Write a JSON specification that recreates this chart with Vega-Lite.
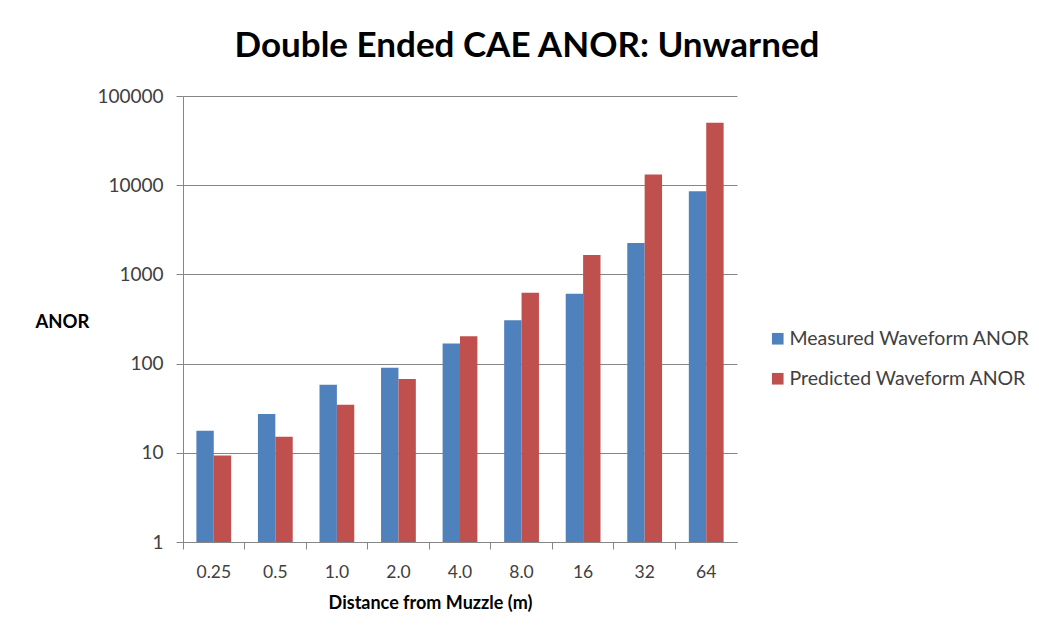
{
  "$schema": "https://vega.github.io/schema/vega-lite/v6.json",
  "autosize": "none",
  "width": 554,
  "height": 446,
  "padding": {"left": 183, "top": 96, "right": 302, "bottom": 97},
  "background": "white",
  "config": {
    "view": {"stroke": null},
    "font": "Lato"
  },
  "title": {
    "text": "Double Ended CAE ANOR: Unwarned",
    "font": "Lato",
    "fontSize": 35,
    "fontWeight": "bold",
    "color": "#000000",
    "anchor": "middle",
    "frame": "group",
    "dx": 67,
    "offset": 23
  },
  "data": {
    "values": [
      {"dist": "0.25", "series": "Measured Waveform ANOR", "anor": 17.7},
      {"dist": "0.25", "series": "Predicted Waveform ANOR", "anor": 9.3},
      {"dist": "0.5", "series": "Measured Waveform ANOR", "anor": 27.2},
      {"dist": "0.5", "series": "Predicted Waveform ANOR", "anor": 15.1},
      {"dist": "1.0", "series": "Measured Waveform ANOR", "anor": 58},
      {"dist": "1.0", "series": "Predicted Waveform ANOR", "anor": 34.6},
      {"dist": "2.0", "series": "Measured Waveform ANOR", "anor": 90},
      {"dist": "2.0", "series": "Predicted Waveform ANOR", "anor": 67},
      {"dist": "4.0", "series": "Measured Waveform ANOR", "anor": 168},
      {"dist": "4.0", "series": "Predicted Waveform ANOR", "anor": 203},
      {"dist": "8.0", "series": "Measured Waveform ANOR", "anor": 307},
      {"dist": "8.0", "series": "Predicted Waveform ANOR", "anor": 623},
      {"dist": "16", "series": "Measured Waveform ANOR", "anor": 607},
      {"dist": "16", "series": "Predicted Waveform ANOR", "anor": 1652},
      {"dist": "32", "series": "Measured Waveform ANOR", "anor": 2255},
      {"dist": "32", "series": "Predicted Waveform ANOR", "anor": 13200},
      {"dist": "64", "series": "Measured Waveform ANOR", "anor": 8570},
      {"dist": "64", "series": "Predicted Waveform ANOR", "anor": 50200}
    ]
  },
  "mark": {"type": "bar"},
  "encoding": {
    "x": {
      "field": "dist",
      "type": "nominal",
      "sort": ["0.25", "0.5", "1.0", "2.0", "4.0", "8.0", "16", "32", "64"],
      "scale": {"paddingInner": 0, "paddingOuter": 0},
      "axis": {
        "title": "Distance from Muzzle (m)",
        "titleFont": "Lato",
        "titleFontSize": 18,
        "titleFontWeight": "bold",
        "titleColor": "#000000",
        "titleX": 247,
        "titleY": 61,
        "titleAlign": "center",
        "titleBaseline": "middle",
        "labelAngle": 0,
        "labelFont": "Lato",
        "labelFontSize": 17.5,
        "labelColor": "#404040",
        "labelPadding": 14,
        "bandPosition": 0,
        "tickSize": 7,
        "tickColor": "#868686",
        "domainColor": "#868686",
        "grid": false
      }
    },
    "xOffset": {
      "field": "series",
      "type": "nominal",
      "scale": {"paddingOuter": 0.77, "paddingInner": 0}
    },
    "y": {
      "field": "anor",
      "type": "quantitative",
      "stack": null,
      "scale": {"type": "log", "domain": [1, 100000], "nice": false},
      "axis": {
        "title": "ANOR",
        "titleAngle": 0,
        "titleAlign": "left",
        "titleBaseline": "middle",
        "titleX": -148,
        "titleY": 225,
        "titleFont": "Lato",
        "titleFontSize": 18.5,
        "titleFontWeight": "bold",
        "titleColor": "#000000",
        "values": [1, 10, 100, 1000, 10000, 100000],
        "format": "d",
        "labelFont": "Lato",
        "labelFontSize": 19,
        "labelColor": "#404040",
        "labelPadding": 13,
        "tickSize": 7,
        "tickColor": "#868686",
        "domainColor": "#868686",
        "gridColor": "#868686",
        "gridWidth": 1
      }
    },
    "color": {
      "field": "series",
      "type": "nominal",
      "scale": {
        "domain": ["Measured Waveform ANOR", "Predicted Waveform ANOR"],
        "range": ["#4f81bd", "#c0504d"]
      },
      "legend": {
        "title": null,
        "orient": "none",
        "legendX": 585,
        "legendY": 233,
        "symbolType": "square",
        "symbolSize": 135,
        "symbolStrokeWidth": 0,
        "labelFont": "Lato",
        "labelFontSize": 19.5,
        "labelColor": "#404040",
        "labelLimit": 400,
        "rowPadding": 19,
        "labelOffset": 2
      }
    }
  }
}
